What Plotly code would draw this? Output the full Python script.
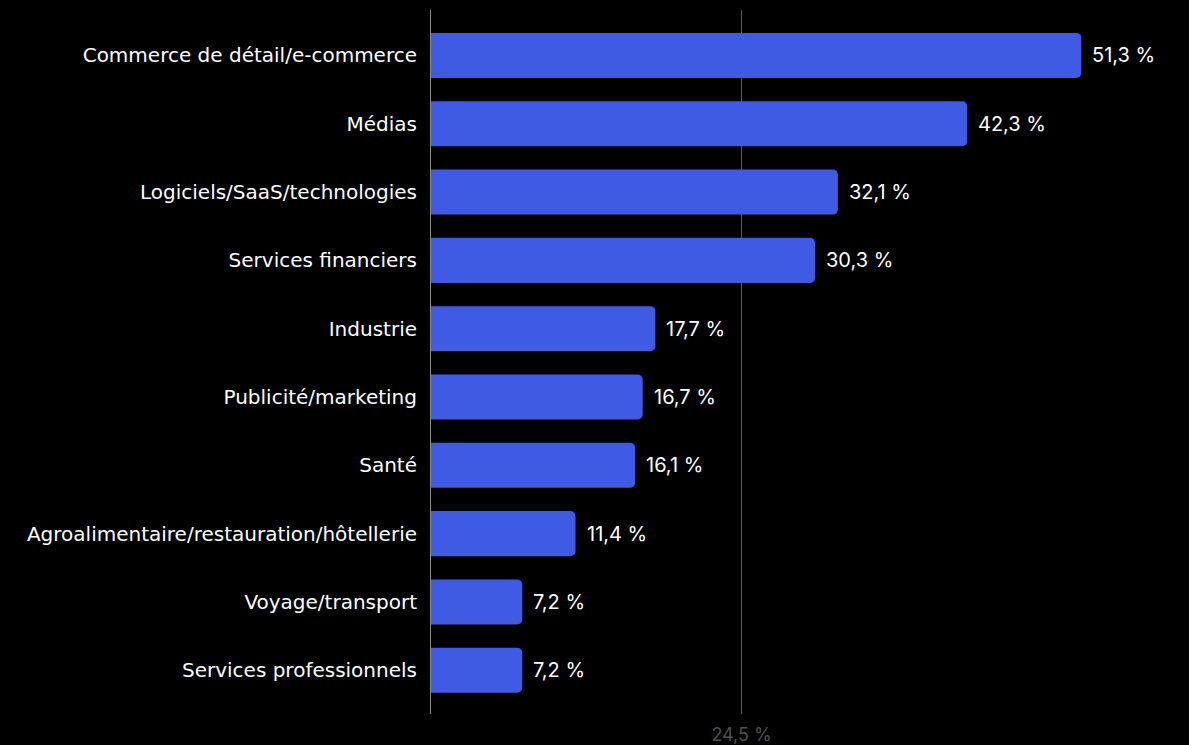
import plotly.graph_objects as go

# Sectors and their share (%)
categories = [
    "Commerce de détail/e-commerce",
    "Médias",
    "Logiciels/SaaS/technologies",
    "Services financiers",
    "Industrie",
    "Publicité/marketing",
    "Santé",
    "Agroalimentaire/restauration/hôtellerie",
    "Voyage/transport",
    "Services professionnels",
]
values = [51.3, 42.3, 32.1, 30.3, 17.7, 16.7, 16.1, 11.4, 7.2, 7.2]

# Reference line value shown on the x axis
ref_value = 24.5
ref_label = "24,5 %"


def fmt(v):
    return f"{v:.1f}".replace(".", ",") + " %"


LABEL_FONT = "'DejaVu Sans', Arial, sans-serif"
VALUE_FONT = "Inter, 'Liberation Sans', Arial, sans-serif"
BAR_COLOR = "#3F5BE3"

fig = go.Figure(
    go.Bar(
        x=values,
        y=categories,
        orientation="h",
        marker=dict(color=BAR_COLOR, line=dict(width=0)),
        hoverinfo="skip",
    )
)

# Value labels to the right of each bar
for c, v in zip(categories, values):
    fig.add_annotation(
        x=v, y=c, text=fmt(v), showarrow=False,
        xanchor="left", yanchor="middle", xshift=9,
        font=dict(family=VALUE_FONT, size=20, color="#FFFFFF"),
    )

fig.update_layout(
    width=1189,
    height=745,
    paper_bgcolor="#000000",
    plot_bgcolor="#000000",
    margin=dict(l=431, r=0, t=10, b=29),
    bargap=0.34,
    barcornerradius=5,
    showlegend=False,
    font=dict(family=VALUE_FONT, size=19, color="#FFFFFF"),
)

fig.update_xaxes(
    range=[0, 59.8],
    tickvals=[ref_value],
    ticktext=[ref_label],
    showgrid=True,
    gridcolor="#5A5A5A",
    gridwidth=1,
    zeroline=False,
    showline=False,
    ticks="",
    ticklabelstandoff=8,
    tickfont=dict(family=VALUE_FONT, size=18, color="#505050"),
    fixedrange=True,
)

fig.update_yaxes(
    categoryorder="array",
    categoryarray=categories,
    autorange=False,
    range=[9.64, -0.665],
    showgrid=False,
    zeroline=False,
    showline=True,
    linecolor="#8A8A8A",
    linewidth=1,
    ticks="",
    ticklabelstandoff=9,
    tickfont=dict(family=LABEL_FONT, size=20, color="#FFFFFF"),
    fixedrange=True,
)

fig.write_html("out.html")
